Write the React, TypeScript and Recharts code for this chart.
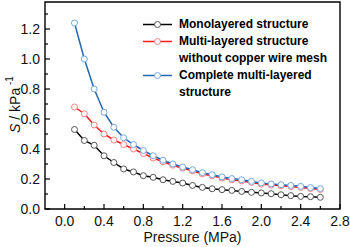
import React from "react";
import { LineChart, Line, XAxis, YAxis, ReferenceArea, Legend } from "recharts";

// pressure (MPa)
const pressure = [
  0.1, 0.2, 0.3, 0.4, 0.5, 0.6, 0.7, 0.8, 0.9, 1.0, 1.1, 1.2, 1.3,
  1.4, 1.5, 1.6, 1.7, 1.8, 1.9, 2.0, 2.1, 2.2, 2.3, 2.4, 2.5, 2.6,
];

// sensitivity S (kPa^-1)
const mono = [
  0.53, 0.457, 0.425, 0.355, 0.31, 0.267, 0.247, 0.222, 0.211, 0.195, 0.184, 0.173, 0.157,
  0.144, 0.135, 0.129, 0.124, 0.117, 0.111, 0.107, 0.102, 0.095, 0.089, 0.084, 0.082, 0.078,
];
const multiNoMesh = [
  0.68, 0.635, 0.56, 0.5, 0.46, 0.43, 0.4, 0.37, 0.34, 0.315, 0.292, 0.272, 0.254,
  0.234, 0.221, 0.206, 0.195, 0.187, 0.177, 0.166, 0.16, 0.155, 0.15, 0.144, 0.136, 0.13,
];
const complete = [
  1.24, 1.0, 0.8, 0.645, 0.545, 0.475, 0.43, 0.39, 0.355, 0.325, 0.3, 0.28, 0.262,
  0.242, 0.229, 0.214, 0.203, 0.195, 0.184, 0.174, 0.167, 0.162, 0.157, 0.151, 0.143, 0.136,
];

const xTicks = [0, 0.2, 0.4, 0.6, 0.8, 1.0, 1.2, 1.4, 1.6, 1.8, 2.0, 2.2, 2.4, 2.6, 2.8];
const yTicks = [0, 0.1, 0.2, 0.3, 0.4, 0.5, 0.6, 0.7, 0.8, 0.9, 1.0, 1.1, 1.2, 1.3];

const seriesInfo = [
  { key: "mono", lines: ["Monolayered structure"], color: "#000000", dotColor: "#555555" },
  { key: "multi", lines: ["Multi-layered structure", "without copper wire mesh"], color: "#ff1a1a", dotColor: "#ff8080" },
  { key: "complete", lines: ["Complete multi-layered", "structure"], color: "#2468b4", dotColor: "#74a9dc" },
];

const data = pressure.map((p, i) => ({
  p,
  mono: mono[i],
  multi: multiNoMesh[i],
  complete: complete[i],
}));

const FONT = "'Liberation Sans', Arial, sans-serif";

const XTick = (props: any) => {
  const { x, y, payload } = props;
  const v = payload.value;
  const major = Math.round(v * 10) % 4 === 0;
  return (
    <g>
      <line x1={x} x2={x} y1={y} y2={y - (major ? 5 : 3)} stroke="#000" strokeWidth={1.2} />
      {major && (
        <text x={x} y={y + 17} textAnchor="middle" fontSize={14} fontFamily={FONT} fill="#111">
          {v.toFixed(1)}
        </text>
      )}
    </g>
  );
};

const YTick = (props: any) => {
  const { x, y, payload } = props;
  const v = payload.value;
  const major = Math.round(v * 10) % 2 === 0;
  return (
    <g>
      <line x1={x} x2={x + (major ? 5 : 3)} y1={y} y2={y} stroke="#000" strokeWidth={1.2} />
      {major && (
        <text x={x - 5} y={y + 5} textAnchor="end" fontSize={14} fontFamily={FONT} fill="#111">
          {v.toFixed(1)}
        </text>
      )}
    </g>
  );
};

const XTitle = (props: any) => {
  const { viewBox } = props;
  return (
    <text
      x={viewBox.x + viewBox.width / 2}
      y={viewBox.y + 33}
      textAnchor="middle"
      fontSize={14}
      fontFamily={FONT}
      fill="#111"
    >
      Pressure (MPa)
    </text>
  );
};

const YTitle = (props: any) => {
  const { viewBox } = props;
  const cx = 20;
  const cy = viewBox.y + viewBox.height / 2 - 1;
  return (
    <text
      x={cx}
      y={cy}
      transform={`rotate(-90 ${cx} ${cy})`}
      textAnchor="middle"
      fontSize={14}
      fontFamily={FONT}
      fill="#111"
    >
      <tspan fontStyle="italic">S</tspan>
      <tspan> / kPa</tspan>
      <tspan dy={-7} fontSize={10}> -1</tspan>
    </text>
  );
};

const renderLegend = () => (
  <div style={{ fontFamily: FONT, fontSize: 12, fontWeight: "bold", lineHeight: "17px", color: "#000" }}>
    {seriesInfo.map((s) => (
      <div key={s.key} style={{ display: "flex", alignItems: "flex-start" }}>
        <svg width={36} height={17} style={{ flex: "none" }}>
          <line x1={0} x2={29} y1={8.5} y2={8.5} stroke={s.color} strokeWidth={1.5} />
          <circle cx={14.5} cy={8.5} r={3} fill="#fff" stroke={s.dotColor} strokeWidth={1} />
        </svg>
        <div style={{ whiteSpace: "nowrap" }}>
          {s.lines.map((l) => (
            <div key={l}>{l}</div>
          ))}
        </div>
      </div>
    ))}
  </div>
);

export default function App() {
  return (
    <div style={{ position: "fixed", left: 0, top: 0, background: "#fff" }}>
      <LineChart width={350} height={247} data={data} margin={{ top: 2, right: 10, left: 0, bottom: 0 }}>
        <XAxis
          dataKey="p"
          type="number"
          domain={[-0.2, 2.8]}
          ticks={xTicks}
          interval={0}
          height={38}
          tickSize={0}
          tickMargin={0}
          tickLine={false}
          axisLine={false}
          tick={<XTick />}
          label={{ content: <XTitle /> }}
        />
        <YAxis
          type="number"
          domain={[0, 1.38]}
          ticks={yTicks}
          interval={0}
          width={45}
          tickSize={0}
          tickMargin={0}
          tickLine={false}
          axisLine={false}
          tick={<YTick />}
          label={{ content: <YTitle /> }}
        />
        <ReferenceArea x1={-0.2} x2={2.8} y1={0} y2={1.38} fill="none" stroke="#000" strokeWidth={1.4} />
        {seriesInfo.map((s) => (
          <Line
            key={s.key}
            dataKey={s.key}
            type="linear"
            stroke={s.color}
            strokeWidth={1.5}
            dot={{ r: 3, fill: "#fff", stroke: s.dotColor, strokeWidth: 1 }}
            isAnimationActive={false}
          />
        ))}
        <Legend
          content={renderLegend}
          layout="vertical"
          align="center"
          verticalAlign="middle"
          wrapperStyle={{ top: 16, left: 143, width: 200 }}
        />
      </LineChart>
    </div>
  );
}
